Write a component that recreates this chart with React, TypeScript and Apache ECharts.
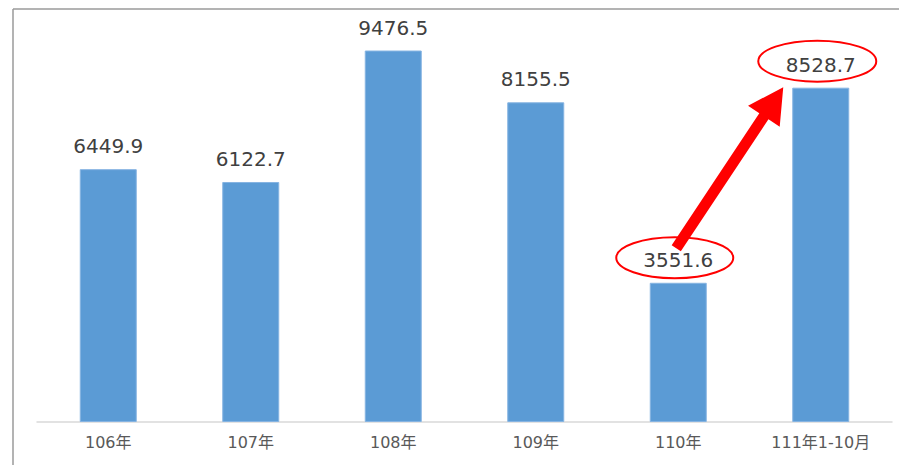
import React, { useEffect, useRef } from "react";
import * as echarts from "echarts";

const categories = ["106年", "107年", "108年", "109年", "110年", "111年1-10月"];
const values = [6449.9, 6122.7, 9476.5, 8155.5, 3551.6, 8528.7];
const highlighted = [4, 5];

export default function App() {
  const ref = useRef<HTMLDivElement>(null);
  useEffect(() => {
    if (!ref.current) return;
    const chart = echarts.init(ref.current, null, { renderer: "svg" });
    chart.setOption({
      animation: false,
      backgroundColor: "#ffffff",
      grid: { left: 37, right: 7, top: 30, bottom: 43 },
      xAxis: {
        type: "category",
        data: categories,
        axisLine: { show: true, lineStyle: { color: "#d9d9d9", width: 1.5 } },
        axisTick: { show: false },
        axisLabel: {
          color: "#595959",
          fontSize: 16,
          fontFamily: "DejaVu Sans, Noto Sans CJK TC",
          margin: 12,
        },
      },
      yAxis: {
        type: "value",
        min: 0,
        max: 10000,
        show: false,
        splitLine: { show: false },
      },
      series: [
        {
          type: "bar",
          data: values,
          barWidth: "40%",
          itemStyle: { color: "#5B9BD5", borderColor: "#86b4e2", borderWidth: 1 },
          label: {
            show: true,
            position: "top",
            distance: 13,
            color: "#404040",
            fontSize: 20,
            fontFamily: "DejaVu Sans",
            formatter: (p: any) => Number(p.value).toFixed(1),
          },
        },
      ],
    });

    const c1 = chart.convertToPixel({ seriesIndex: 0 }, [highlighted[0], values[highlighted[0]]]) as number[];
    const c2 = chart.convertToPixel({ seriesIndex: 0 }, [highlighted[1], values[highlighted[1]]]) as number[];
    const e1 = [c1[0] - 3.5, c1[1] - 25];
    const e2 = [c2[0] - 3.5, c2[1] - 26.5];
    const T = [e1[0] + 1.5, e1[1] - 9.5];
    const P = [e2[0] - 34, e2[1] + 26];
    const dx = P[0] - T[0];
    const dy = P[1] - T[1];
    const len = Math.hypot(dx, dy);
    const u = [dx / len, dy / len];
    const n = [-u[1], u[0]];
    const w = 5.5;
    const hw = 19;
    const hl = 35;
    const H = [P[0] - u[0] * hl, P[1] - u[1] * hl];
    const pt = (b: number[], k: number) => [b[0] + n[0] * k, b[1] + n[1] * k];
    const arrowPts = [pt(T, w), pt(H, w), pt(H, hw), P, pt(H, -hw), pt(H, -w), pt(T, -w)];

    chart.setOption({
      graphic: [
        { type: "line", shape: { x1: 13, y1: 9, x2: 899, y2: 9 }, style: { stroke: "#9a9a9a", lineWidth: 1.5 } },
        { type: "line", shape: { x1: 13, y1: 9, x2: 13, y2: 465 }, style: { stroke: "#9a9a9a", lineWidth: 1.5 } },
        { type: "ellipse", shape: { cx: e1[0], cy: e1[1], rx: 58.5, ry: 20.5 }, style: { fill: "none", stroke: "#ff0000", lineWidth: 2 } },
        { type: "ellipse", shape: { cx: e2[0], cy: e2[1], rx: 59, ry: 20.5 }, style: { fill: "none", stroke: "#ff0000", lineWidth: 2 } },
        { type: "polygon", shape: { points: arrowPts }, style: { fill: "#ff0000" } },
      ],
    });

    return () => chart.dispose();
  }, []);
  return (
    <div
      ref={ref}
      style={{ position: "fixed", left: 0, top: 0, width: 899, height: 465 }}
    />
  );
}
